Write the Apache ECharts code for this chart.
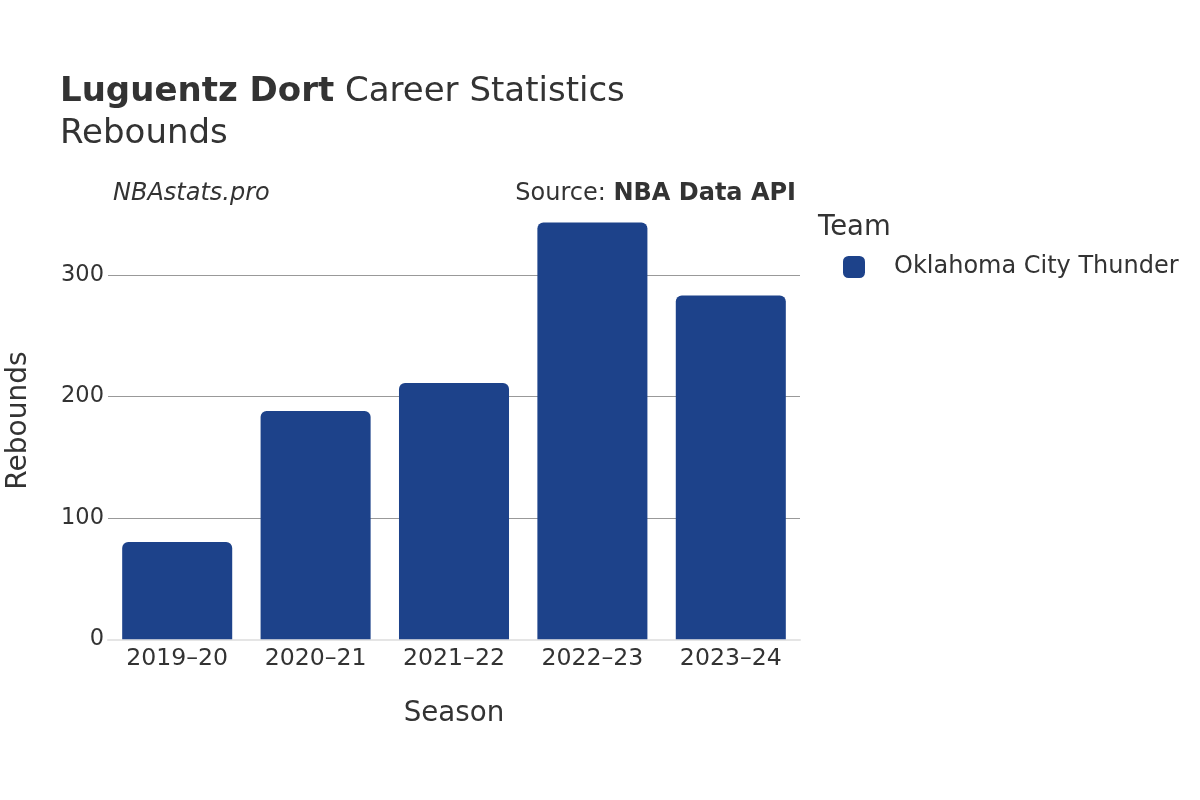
<!DOCTYPE html>
<html>
<head>
<meta charset="utf-8">
<script src="https://cdn.jsdelivr.net/npm/echarts@6/dist/echarts.min.js"></script>
<style>html,body{margin:0;padding:0;background:#fff;}#c{width:1200px;height:800px;}</style>
</head>
<body>
<div id="c"></div>
<script>
const seasons = ['2019–20', '2020–21', '2021–22', '2022–23', '2023–24'];
const rebounds = [80, 188, 211, 343, 283];
const yTicks = [0, 100, 200, 300];
const teamName = 'Oklahoma City Thunder';

const FONT = 'DejaVu Sans';
const TXT = '#333';
const chart = echarts.init(document.getElementById('c'), null, {renderer: 'canvas'});
chart.setOption({
  backgroundColor: '#fff',
  animation: false,
  textStyle: {fontFamily: FONT},
  title: {
    left: 60, top: 71, padding: 0,
    text: '{b|Luguentz Dort}{n| Career Statistics}\n{n|Rebounds}',
    textStyle: {
      fontWeight: 'normal',
      rich: {
        b: {fontFamily: FONT, fontSize: 34, fontWeight: 'bold', color: TXT, lineHeight: 42},
        n: {fontFamily: FONT, fontSize: 34, fontWeight: 'normal', color: TXT, lineHeight: 42}
      }
    }
  },
  graphic: [
    {type: 'text', left: 113, top: 182, style: {text: 'NBAstats.pro', font: 'italic 24px "DejaVu Sans"', fill: TXT}},
    {type: 'text', right: 404, top: 182, style: {
      text: '{n|Source: }{b|NBA Data API}',
      rich: {n: {font: '24px "DejaVu Sans"', fill: TXT}, b: {font: 'bold 24px "DejaVu Sans"', fill: TXT}}
    }},
    {type: 'text', left: 818, top: 214, style: {text: 'Team', font: '27.5px "DejaVu Sans"', fill: TXT}}
  ],
  legend: {
    left: 838, top: 250,
    orient: 'vertical',
    icon: 'roundRect',
    itemWidth: 22, itemHeight: 22,
    data: [teamName],
    textStyle: {fontFamily: FONT, fontSize: 24, color: TXT, padding: [2, 0, 0, 24]}
  },
  grid: {left: 108, right: 400, top: 201.9, bottom: 160.7, containLabel: false, outerBoundsMode: 'none'},
  xAxis: {
    type: 'category',
    data: seasons,
    name: 'Season',
    nameLocation: 'middle',
    nameGap: 61,
    nameTextStyle: {fontFamily: FONT, fontSize: 27.7, color: TXT},
    axisLine: {show: true, lineStyle: {color: '#e5e5e5', width: 2}},
    axisTick: {show: false},
    axisLabel: {fontFamily: FONT, fontSize: 23.6, color: TXT, margin: 8}
  },
  yAxis: {
    type: 'value',
    min: 0, max: 360, interval: 100,
    name: 'Rebounds',
    nameLocation: 'middle',
    nameGap: 75,
    nameTextStyle: {fontFamily: FONT, fontSize: 28, color: TXT},
    axisLine: {show: false},
    axisTick: {show: false},
    axisLabel: {
      fontFamily: FONT, fontSize: 22.5, color: TXT, margin: 4,
      padding: [4, 0, 0, 0],
      showMaxLabel: false,
      formatter: v => (yTicks.indexOf(v) >= 0 ? String(v) : '')
    },
    splitLine: {show: true, lineStyle: {color: ['#e5e5e5', '#999', '#999', '#999', 'rgba(0,0,0,0)'], width: 1}}
  },
  series: [{
    name: teamName,
    type: 'bar',
    data: rebounds,
    barCategoryGap: '20.5%',
    itemStyle: {color: '#1D428A', borderRadius: [6, 6, 0, 0]}
  }]
});
</script>
</body>
</html>
